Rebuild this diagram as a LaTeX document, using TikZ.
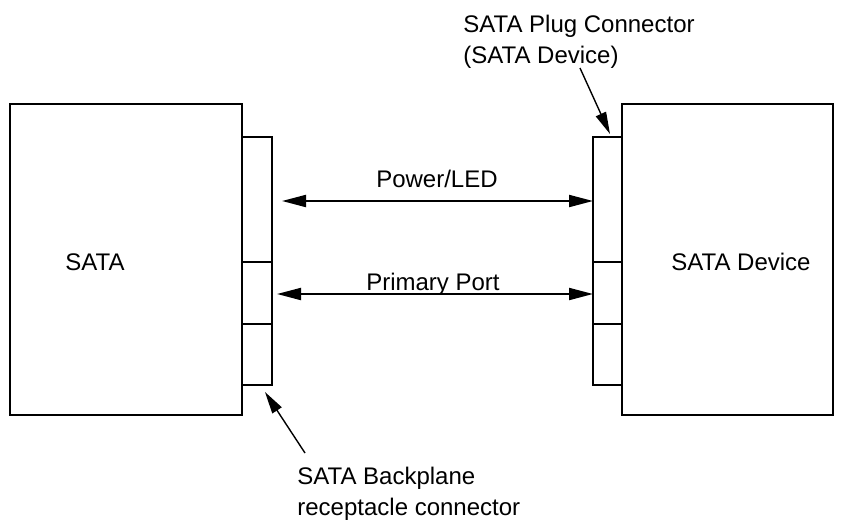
\documentclass[tikz,border=0pt]{standalone}
\usepackage{fontspec}
\setmainfont{Liberation Sans}
\usetikzlibrary{
	arrows.meta,
	calc,
	positioning
}

\begin{document}
\begin{tikzpicture}[x=0.5pt,y=-0.5pt,
		every node/.style={font=\fontsize{12}{15.5}\selectfont,inner sep=0pt},
		box/.style={line width=1.4pt},
		sig/.style={line width=1pt,{Triangle[length=12pt,width=6pt]}-{Triangle[length=12pt,width=6pt]}},
		lead/.style={line width=0.7pt,-{Triangle[length=11pt,width=5.5pt]}}]
		\useasboundingbox (0,0) rectangle (843,521);
		\coordinate (Ha) at (10,104);
		\coordinate (Hb) at (242,415);
		\coordinate (Da) at (622,104);
		\coordinate (Db) at (833,415);
		\draw[box] (Ha) rectangle (Hb);
		\draw[box] (Da) rectangle (Db);
		\draw[box] (242,137) rectangle (272,385);
		\draw[box] (242,262)--(272,262) (242,324)--(272,324);
		\draw[box] (593,137) rectangle (622,385);
		\draw[box] (593,262)--(622,262) (593,324)--(622,324);
		\node[anchor=base] (Host) at (95,270) {SATA};
		\node[anchor=base] (Dev) at (741,270) {SATA Device};
		\coordinate (Pa) at (282,201);
		\coordinate (Pb) at (593,201);
		\coordinate (Qa) at (277,294);
		\coordinate (Qb) at (593,294);
		\draw[sig] (Pa)--(Pb);
		\draw[sig] (Qa)--(Qb);
		\node[anchor=base] (Pwr) at (437,187) {Power/LED};
		\node[anchor=base] (Prim) at (433,290) {Primary Port};
		\node[anchor=base west,align=left] (Plug) at (463,63) {SATA Plug Connector\\(SATA Device)};
		\node[anchor=base west,align=left] (Recp) at (297,515) {SATA Backplane\\receptacle connector};
		\coordinate (Ta) at (580,68);
		\coordinate (Tb) at (610,134);
		\coordinate (Ba) at (305,453);
		\coordinate (Bb) at (265,392);
		\draw[lead] (Ta)--(Tb);
		\draw[lead] (Ba)--(Bb);
	\end{tikzpicture}
\end{document}
